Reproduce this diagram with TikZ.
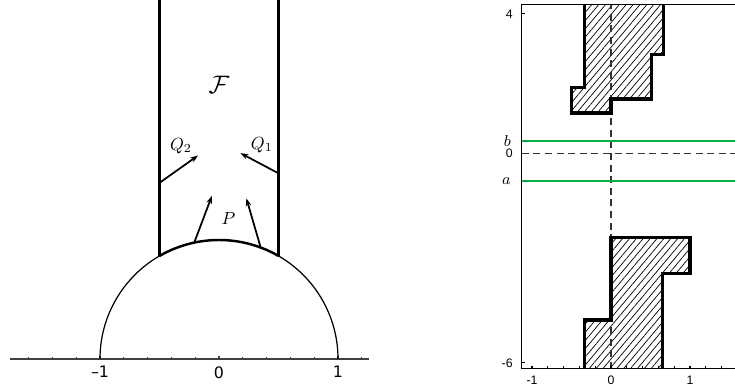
\documentclass[tikz,border=0pt]{standalone}
\usepackage{amsmath, amssymb}
\usepackage{fontspec}
\usepackage{tikz}
\usetikzlibrary{arrows.meta, patterns.meta, positioning, calc}
\newfontfamily\axisfont{DejaVu Sans}
\newfontfamily\plotfont{Liberation Sans}
\definecolor{levelgreen}{RGB}{0,175,70}
\tikzset{
  % --- left panel: half disc and strip ---
  wall/.style={line width=1.4pt},
  thinarc/.style={line width=0.7pt},
  vecarrow/.style={-{Stealth[length=4.5pt, width=3.2pt]}, line width=1pt},
  axisline/.style={draw=black!75, line width=0.7pt},
  ticklabelL/.style={font=\axisfont\fontsize{9}{10}\selectfont, inner sep=1pt},
  mathlabel/.style={font=\normalsize, inner sep=0pt},
  % --- right panel: plot with stepped regions ---
  frameline/.style={line width=0.6pt},
  stepline/.style={line width=1.8pt, line join=miter},
  hatched/.style={pattern={Lines[angle=50, distance=3pt, line width=0.4pt]}},
  dashline/.style={dash pattern=on 4pt off 2.6pt, line width=0.7pt, black!80},
  levelline/.style={draw=levelgreen, line width=1.1pt},
  ticklabelR/.style={font=\plotfont\fontsize{7}{8}\selectfont, inner sep=1pt},
  levellabel/.style={font=\small, inner sep=0pt},
}
\begin{document}
\begin{tikzpicture}
  \useasboundingbox (0,0) rectangle (14.7,7.8);

  % --- left panel ---
  \begin{scope}[shift={(4.38,0.62)}, scale=2.38]
    \coordinate (axl) at (-1.76,0);
    \coordinate (axr) at (1.26,0);
    \draw[axisline] (axl) -- (axr);
    \foreach \t in {-1.6,-1.4,...,1.21}
      \draw[axisline] (\t,0) -- (\t,0.014);
    \foreach \t in {-1,0,1}
      \draw[axisline] (\t,0) -- (\t,0.025);
    \foreach \t/\lab/\nm in {-1/–1/m, 0/0/z, 1/1/p}
      \node[ticklabelL, below=3pt] (xlab\nm) at (\t,0) {\lab};

    \draw[thinarc] (1,0) arc[start angle=0, end angle=180, radius=1];
    \draw[wall] (60:1) arc[start angle=60, end angle=120, radius=1];

    \coordinate (wl) at (120:1);
    \coordinate (wr) at (60:1);
    \coordinate (wltop) at (-0.5,3.05);
    \coordinate (wrtop) at (0.5,3.05);
    \draw[wall] (wl) -- (wltop);
    \draw[wall] (wr) -- (wrtop);

    \node[mathlabel, font=\Large] (lblF) at (0,2.30) {$\mathcal{F}$};

    % vectors at the walls
    \coordinate (q2s) at (-0.5,1.48);
    \coordinate (q2e) at (-0.176,1.71);
    \draw[vecarrow] (q2s) -- (q2e);
    \node[mathlabel] (lblQ2) at (-0.32,1.79) {$Q_2$};

    \coordinate (q1s) at (0.5,1.56);
    \coordinate (q1e) at (0.18,1.73);
    \draw[vecarrow] (q1s) -- (q1e);
    \node[mathlabel] (lblQ1) at (0.36,1.80) {$Q_1$};

    % vectors at the arc
    \coordinate (pls) at (102:1);
    \coordinate (ple) at (-0.06,1.37);
    \draw[vecarrow] (pls) -- (ple);
    \coordinate (prs) at (69.5:1);
    \coordinate (pre) at (0.23,1.35);
    \draw[vecarrow] (prs) -- (pre);
    \node[mathlabel] (lblP) at (0.08,1.18) {$P$};
  \end{scope}

  % --- right panel ---
  \begin{scope}[shift={(12.22,4.73)}, xscale=1.58, yscale=0.698]
    % hatched regions
    \fill[hatched] (-1/3,4.27) -- (-1/3,1.88) -- (-0.5,1.88) -- (-0.5,1.16)
      -- (0,1.16) -- (0,1.56) -- (0.51,1.56) -- (0.51,2.84) -- (0.66,2.84)
      -- (0.66,4.27) -- cycle;
    \fill[hatched] (0,-2.40) -- (1,-2.40) -- (1,-3.43) -- (0.65,-3.43)
      -- (0.65,-6.17) -- (-1/3,-6.17) -- (-1/3,-4.77) -- (0,-4.77) -- cycle;

    % axes and level lines
    \coordinate (vtop) at (0,4.27);
    \coordinate (vbot) at (0,-6.17);
    \coordinate (hleft) at (-1.13,0);
    \coordinate (hright) at (1.57,0);
    \draw[dashline] (vbot) -- (vtop);
    \draw[dashline] (hleft) -- (hright);

    \coordinate (bl) at (-1.13,0.35);
    \coordinate (br) at (1.57,0.35);
    \coordinate (al) at (-1.13,-0.785);
    \coordinate (ar) at (1.57,-0.785);
    \draw[levelline] (bl) -- (br);
    \draw[levelline] (al) -- (ar);
    \node[levellabel, left=6pt of bl] (lblb) {$b$};
    \node[levellabel, left=6pt of al] (lbla) {$a$};

    % stepped outlines
    \draw[stepline] (-1/3,4.27) -- (-1/3,1.88) -- (-0.5,1.88) -- (-0.5,1.16)
      -- (0,1.16) -- (0,1.56) -- (0.51,1.56) -- (0.51,2.84) -- (0.66,2.84)
      -- (0.66,4.27);
    \draw[stepline] (-1/3,-6.17) -- (-1/3,-4.77) -- (0,-4.77) -- (0,-2.40)
      -- (1,-2.40) -- (1,-3.43) -- (0.65,-3.43) -- (0.65,-6.17);

    % frame
    \draw[frameline] (1.57,4.27) -- (-1.13,4.27) -- (-1.13,-6.17) -- (1.57,-6.17);
    \foreach \t in {-1,-0.8,...,1.45}
      \draw[frameline] (\t,-6.17) -- (\t,-6.09);
    \foreach \t in {4,-6}
      \draw[frameline] (-1.13,\t) -- (-1.09,\t);
    \foreach \t/\lab/\nm in {-1/-1/m, 0/0/z, 1/1/p}
      \node[ticklabelR, below=3pt] (blab\nm) at (\t,-6.17) {\lab};
    \foreach \t/\lab/\nm in {4/4/t, 0/0/z, -6/-6/b}
      \node[ticklabelR, left=4pt] (llab\nm) at (-1.13,\t) {\lab};
  \end{scope}
\end{tikzpicture}
\end{document}
